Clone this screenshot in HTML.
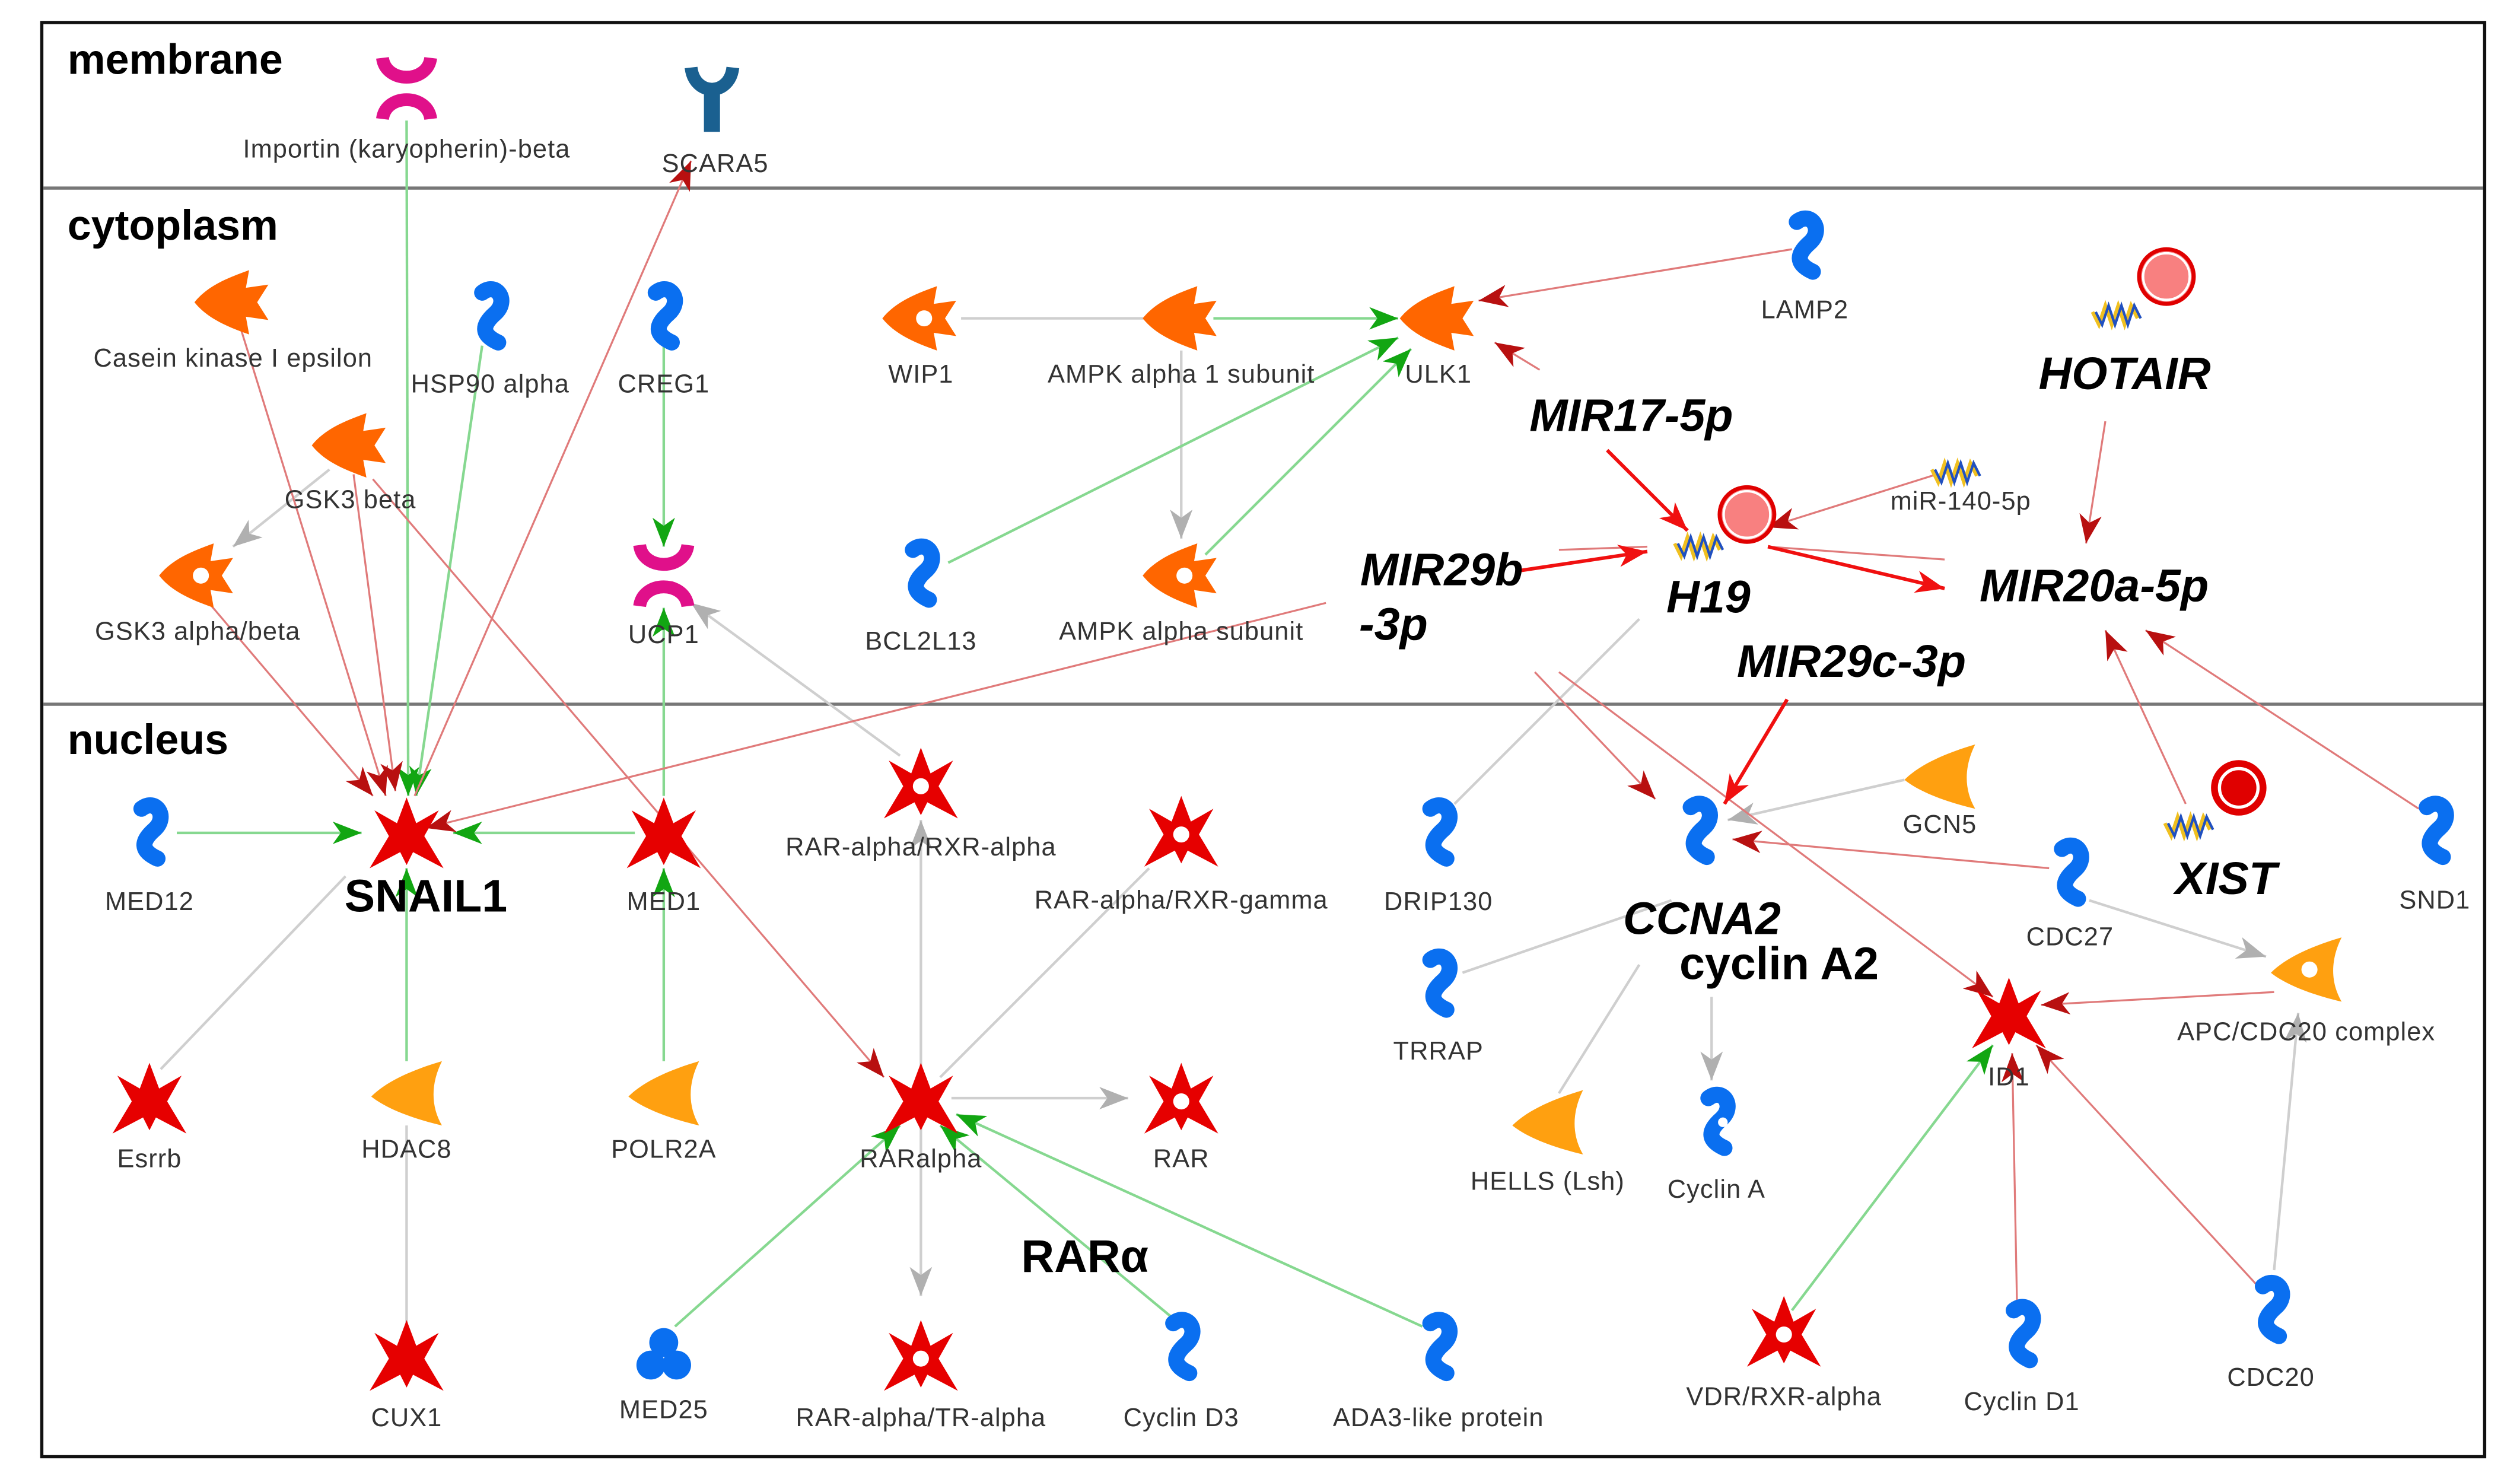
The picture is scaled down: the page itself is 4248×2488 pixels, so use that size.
<!DOCTYPE html>
<html><head><meta charset="utf-8"><style>
html,body{margin:0;padding:0;background:#fff;}
svg{display:block;}
.l{font-family:"Liberation Sans",sans-serif;font-size:16px;letter-spacing:0.4px;fill:#333;text-anchor:middle;}
.r{font-family:"Liberation Sans",sans-serif;font-size:26.5px;font-weight:bold;fill:#000;}
.b{font-family:"Liberation Sans",sans-serif;font-size:28.5px;font-weight:bold;fill:#000;text-anchor:middle;}
.bi{font-family:"Liberation Sans",sans-serif;font-size:28.5px;font-weight:bold;font-style:italic;fill:#000;text-anchor:middle;}
.er{stroke:#e07a7a;stroke-width:1.2;fill:none;}
.eR{stroke:#f01010;stroke-width:2.2;fill:none;}
.eg{stroke:#86d890;stroke-width:1.6;fill:none;}
.ey{stroke:#cfcfcf;stroke-width:1.6;fill:none;}
</style></head><body>
<svg width="4248" height="2488" viewBox="0 0 1568 918" preserveAspectRatio="none" xmlns="http://www.w3.org/2000/svg">
<defs>
<marker id="mr" markerUnits="userSpaceOnUse" markerWidth="20" markerHeight="14" refX="18" refY="7" orient="auto"><path d="M0,0 L18,7 L0,14 L5,7 Z" fill="#b81010"/></marker>
<marker id="mR" markerUnits="userSpaceOnUse" markerWidth="20" markerHeight="14" refX="18" refY="7" orient="auto"><path d="M0,0 L18,7 L0,14 L5,7 Z" fill="#f01010"/></marker>
<marker id="mg" markerUnits="userSpaceOnUse" markerWidth="20" markerHeight="14" refX="18" refY="7" orient="auto"><path d="M0,0 L18,7 L0,14 L5,7 Z" fill="#12a612"/></marker>
<marker id="my" markerUnits="userSpaceOnUse" markerWidth="20" markerHeight="14" refX="18" refY="7" orient="auto"><path d="M0,0 L18,7 L0,14 L5,7 Z" fill="#b0b0b0"/></marker>
<g id="S"><path d="M-5,-15 C4,-22 12,-10 3,-2 C-5,5 -6,11 5,16" stroke="#0a6ff0" stroke-width="10" stroke-linecap="round" fill="none"/></g>
<g id="K"><path d="M-24,0 C-16,-10 -4,-15 10,-20 L8,-9 L22,-11 L15,0 L22,11 L8,9 L10,20 C-4,15 -16,10 -24,0 Z" fill="#ff6600"/></g>
<g id="H"><path d="M-22,2 C-12,-8 5,-15 22,-20 C15,-6 15,8 22,20 C5,16 -12,10 -22,2 Z" fill="#ffa010"/></g>
<g id="T"><path d="M0,-22 L6,-6 L20,-14 L11,2 L23,22 L4,12 L0,20 L-4,12 L-23,22 L-11,2 L-20,-14 L-6,-6 Z" fill="#e60000"/></g>
<g id="W"><circle r="5" fill="#fff"/></g>
<g id="X"><path d="M-15,-19 C-13,-3 13,-3 15,-19 M-15,19 C-13,3 13,3 15,19" stroke="#e0108a" stroke-width="8" fill="none"/></g>
<g id="Q"><path d="M-18,0 l4,8 l4,-12 l4,12 l4,-12 l4,12 l4,-12 l4,8" stroke="#f0c020" stroke-width="2.2" fill="none"/><path d="M-16,0 l4,8 l4,-12 l4,12 l4,-12 l4,12 l4,-12 l4,8" stroke="#2050c0" stroke-width="1.6" fill="none"/></g>
</defs>
<rect x="0" y="0" width="1568" height="918" fill="#fff"/>
<rect x="26" y="14" width="1520" height="892" fill="none" stroke="#111" stroke-width="2"/>
<line x1="27" y1="117" x2="1545" y2="117" stroke="#777" stroke-width="2"/>
<line x1="27" y1="438" x2="1545" y2="438" stroke="#777" stroke-width="2"/>
<text class="r" x="42" y="46">membrane</text>
<text class="r" x="42" y="149">cytoplasm</text>
<text class="r" x="42" y="469">nucleus</text>

<line class="ey" x1="598" y1="198" x2="712" y2="198"/>
<line class="ey" x1="735" y1="218" x2="735" y2="335" marker-end="url(#my)"/>
<line class="ey" x1="205" y1="292" x2="145" y2="340" marker-end="url(#my)"/>
<line class="ey" x1="560" y1="470" x2="430" y2="375" marker-end="url(#my)"/>
<line class="ey" x1="573" y1="665" x2="573" y2="510" marker-end="url(#my)"/>
<line class="ey" x1="585" y1="670" x2="715" y2="540"/>
<line class="ey" x1="592" y1="683" x2="702" y2="683" marker-end="url(#my)"/>
<line class="ey" x1="573" y1="700" x2="573" y2="806" marker-end="url(#my)"/>
<line class="ey" x1="100" y1="665" x2="215" y2="545"/>
<line class="ey" x1="253" y1="825" x2="253" y2="700"/>
<line class="ey" x1="1020" y1="385" x2="905" y2="500"/>
<line class="ey" x1="1185" y1="485" x2="1075" y2="510" marker-end="url(#my)"/>
<line class="ey" x1="1040" y1="560" x2="910" y2="605"/>
<line class="ey" x1="1020" y1="600" x2="970" y2="680"/>
<line class="ey" x1="1065" y1="620" x2="1065" y2="672" marker-end="url(#my)"/>
<line class="ey" x1="1300" y1="560" x2="1410" y2="595" marker-end="url(#my)"/>
<line class="ey" x1="1415" y1="790" x2="1430" y2="630" marker-end="url(#my)"/>

<line class="eg" x1="253" y1="75" x2="254" y2="495" marker-end="url(#mg)"/>
<line class="eg" x1="300" y1="215" x2="259" y2="495" marker-end="url(#mg)"/>
<line class="eg" x1="413" y1="215" x2="413" y2="340" marker-end="url(#mg)"/>
<line class="eg" x1="413" y1="495" x2="413" y2="378" marker-end="url(#mg)"/>
<line class="eg" x1="110" y1="518" x2="225" y2="518" marker-end="url(#mg)"/>
<line class="eg" x1="395" y1="518" x2="282" y2="518" marker-end="url(#mg)"/>
<line class="eg" x1="253" y1="660" x2="253" y2="540" marker-end="url(#mg)"/>
<line class="eg" x1="413" y1="660" x2="413" y2="540" marker-end="url(#mg)"/>
<line class="eg" x1="755" y1="198" x2="870" y2="198" marker-end="url(#mg)"/>
<line class="eg" x1="590" y1="350" x2="870" y2="210" marker-end="url(#mg)"/>
<line class="eg" x1="750" y1="345" x2="878" y2="217" marker-end="url(#mg)"/>
<line class="eg" x1="420" y1="825" x2="560" y2="700" marker-end="url(#mg)"/>
<line class="eg" x1="730" y1="820" x2="585" y2="700" marker-end="url(#mg)"/>
<line class="eg" x1="885" y1="825" x2="595" y2="693" marker-end="url(#mg)"/>
<line class="eg" x1="1115" y1="815" x2="1240" y2="650" marker-end="url(#mg)"/>

<line class="er" x1="150" y1="205" x2="240" y2="495" marker-end="url(#mr)"/>
<line class="er" x1="220" y1="295" x2="246" y2="492" marker-end="url(#mr)"/>
<line class="er" x1="232" y1="298" x2="550" y2="670" marker-end="url(#mr)"/>
<line class="er" x1="130" y1="375" x2="232" y2="495" marker-end="url(#mr)"/>
<line class="er" x1="258" y1="495" x2="430" y2="100" marker-end="url(#mr)"/>
<line class="er" x1="825" y1="375" x2="265" y2="515" marker-end="url(#mr)"/>
<line class="er" x1="1115" y1="155" x2="920" y2="187" marker-end="url(#mr)"/>
<line class="er" x1="958" y1="230" x2="930" y2="213" marker-end="url(#mr)"/>
<line class="er" x1="1205" y1="295" x2="1100" y2="328" marker-end="url(#mr)"/>
<line class="er" x1="1310" y1="262" x2="1298" y2="338" marker-end="url(#mr)"/>
<line class="er" x1="1100" y1="340" x2="1210" y2="348"/>
<line class="er" x1="970" y1="342" x2="1025" y2="340"/>
<line class="er" x1="955" y1="418" x2="1030" y2="497" marker-end="url(#mr)"/>
<line class="er" x1="970" y1="418" x2="1240" y2="620" marker-end="url(#mr)"/>
<line class="er" x1="1275" y1="540" x2="1078" y2="522" marker-end="url(#mr)"/>
<line class="er" x1="1360" y1="500" x2="1310" y2="392" marker-end="url(#mr)"/>
<line class="er" x1="1505" y1="503" x2="1335" y2="392" marker-end="url(#mr)"/>
<line class="er" x1="1415" y1="617" x2="1270" y2="625" marker-end="url(#mr)"/>
<line class="er" x1="1255" y1="810" x2="1252" y2="655" marker-end="url(#mr)"/>
<line class="er" x1="1405" y1="800" x2="1267" y2="650" marker-end="url(#mr)"/>

<line class="eR" x1="1000" y1="280" x2="1050" y2="330" marker-end="url(#mR)"/>
<line class="eR" x1="945" y1="355" x2="1025" y2="343" marker-end="url(#mR)"/>
<line class="eR" x1="1100" y1="340" x2="1210" y2="366" marker-end="url(#mR)"/>
<line class="eR" x1="1112" y1="435" x2="1073" y2="500" marker-end="url(#mR)"/>

<use href="#X" x="253" y="55"/>
<path d="M430,42 C432,60 454,60 456,42" stroke="#1a6090" stroke-width="8" fill="none"/><rect x="438" y="56" width="10" height="26" fill="#1a6090"/>
<use href="#K" x="145" y="188"/>
<use href="#S" x="305" y="197"/>
<use href="#S" x="413" y="197"/>
<use href="#K" x="218" y="277"/>
<use href="#K" x="123" y="358"/><use href="#W" x="125" y="358"/>
<use href="#X" x="413" y="358"/>
<use href="#K" x="573" y="198"/><use href="#W" x="575" y="198"/>
<use href="#K" x="735" y="198"/>
<use href="#K" x="895" y="198"/>
<use href="#S" x="1123" y="153"/>
<use href="#S" x="573" y="357"/>
<use href="#K" x="735" y="358"/><use href="#W" x="737" y="358"/>
<circle cx="1348" cy="172" r="17" fill="#f88080" stroke="#e00000" stroke-width="2.5"/><circle cx="1348" cy="172" r="14.5" fill="none" stroke="#fff" stroke-width="1.5"/>
<use href="#Q" x="1320" y="194"/>
<use href="#Q" x="1220" y="292"/>
<circle cx="1087" cy="320" r="17" fill="#f88080" stroke="#e00000" stroke-width="2.5"/><circle cx="1087" cy="320" r="14.5" fill="none" stroke="#fff" stroke-width="1.5"/>
<use href="#Q" x="1060" y="338"/>
<circle cx="1393" cy="490" r="16" fill="#e00000" stroke="#e00000" stroke-width="2.5"/><circle cx="1393" cy="490" r="12" fill="none" stroke="#fff" stroke-width="2"/>
<use href="#Q" x="1365" y="512"/>
<use href="#T" x="253" y="518"/>
<use href="#S" x="93" y="518"/>
<use href="#T" x="413" y="518"/>
<use href="#T" x="573" y="487"/><use href="#W" x="573" y="489"/>
<use href="#T" x="735" y="517"/><use href="#W" x="735" y="519"/>
<use href="#S" x="895" y="518"/>
<use href="#S" x="1057" y="517"/>
<use href="#H" x="1207" y="483"/>
<use href="#S" x="1288" y="543"/>
<use href="#S" x="1515" y="517"/>
<use href="#S" x="895" y="612"/>
<use href="#H" x="1435" y="603"/><use href="#W" x="1437" y="603"/>
<use href="#T" x="1250" y="630"/>
<use href="#T" x="93" y="683"/>
<use href="#H" x="253" y="680"/>
<use href="#H" x="413" y="680"/>
<use href="#T" x="573" y="683"/>
<use href="#T" x="735" y="683"/><use href="#W" x="735" y="685"/>
<use href="#H" x="963" y="698"/>
<use href="#S" x="1068" y="698"/><circle cx="1072" cy="698" r="3" fill="#fff"/>
<use href="#T" x="253" y="843"/>
<g fill="#0a6ff0"><circle cx="405" cy="849" r="9"/><circle cx="421" cy="849" r="9"/><circle cx="413" cy="835" r="9"/></g>
<use href="#T" x="573" y="843"/><use href="#W" x="573" y="845"/>
<use href="#S" x="735" y="838"/>
<use href="#S" x="895" y="838"/>
<use href="#T" x="1110" y="828"/><use href="#W" x="1110" y="830"/>
<use href="#S" x="1258" y="830"/>
<use href="#S" x="1413" y="815"/>

<text class="l" x="253" y="98">Importin (karyopherin)-beta</text>
<text class="l" x="445" y="107">SCARA5</text>
<text class="l" x="145" y="228">Casein kinase I epsilon</text>
<text class="l" x="305" y="244">HSP90 alpha</text>
<text class="l" x="413" y="244">CREG1</text>
<text class="l" x="218" y="316">GSK3 beta</text>
<text class="l" x="123" y="398">GSK3 alpha/beta</text>
<text class="l" x="413" y="400">UCP1</text>
<text class="l" x="573" y="238">WIP1</text>
<text class="l" x="735" y="238">AMPK alpha 1 subunit</text>
<text class="l" x="895" y="238">ULK1</text>
<text class="l" x="1123" y="198">LAMP2</text>
<text class="l" x="573" y="404">BCL2L13</text>
<text class="l" x="735" y="398">AMPK alpha subunit</text>
<text class="bi" x="1322" y="242">HOTAIR</text>
<text class="bi" x="1015" y="268">MIR17-5p</text>
<text class="l" x="1220" y="317">miR-140-5p</text>
<text class="bi" x="1063" y="381">H19</text>
<text class="bi" x="897" y="364">MIR29b</text>
<text class="bi" x="867" y="398">-3p</text>
<text class="bi" x="1303" y="374">MIR20a-5p</text>
<text class="bi" x="1152" y="421">MIR29c-3p</text>
<text class="bi" x="1385" y="556">XIST</text>
<text class="b" x="265" y="567">SNAIL1</text>
<text class="l" x="93" y="566">MED12</text>
<text class="l" x="413" y="566">MED1</text>
<text class="l" x="573" y="532">RAR-alpha/RXR-alpha</text>
<text class="l" x="735" y="565">RAR-alpha/RXR-gamma</text>
<text class="l" x="895" y="566">DRIP130</text>
<text class="bi" x="1059" y="581">CCNA2</text>
<text class="b" x="1107" y="609">cyclin A2</text>
<text class="l" x="1207" y="518">GCN5</text>
<text class="l" x="1288" y="588">CDC27</text>
<text class="l" x="1515" y="565">SND1</text>
<text class="l" x="895" y="659">TRRAP</text>
<text class="l" x="1435" y="647">APC/CDC20 complex</text>
<text class="l" x="1250" y="675">ID1</text>
<text class="l" x="93" y="726">Esrrb</text>
<text class="l" x="253" y="720">HDAC8</text>
<text class="l" x="413" y="720">POLR2A</text>
<text class="l" x="573" y="726">RARalpha</text>
<text class="l" x="735" y="726">RAR</text>
<text class="l" x="963" y="740">HELLS (Lsh)</text>
<text class="l" x="1068" y="745">Cyclin A</text>
<text class="b" x="675" y="791">RARα</text>
<text class="l" x="253" y="887">CUX1</text>
<text class="l" x="413" y="882">MED25</text>
<text class="l" x="573" y="887">RAR-alpha/TR-alpha</text>
<text class="l" x="735" y="887">Cyclin D3</text>
<text class="l" x="895" y="887">ADA3-like protein</text>
<text class="l" x="1110" y="874">VDR/RXR-alpha</text>
<text class="l" x="1258" y="877">Cyclin D1</text>
<text class="l" x="1413" y="862">CDC20</text>
</svg>
</body></html>
